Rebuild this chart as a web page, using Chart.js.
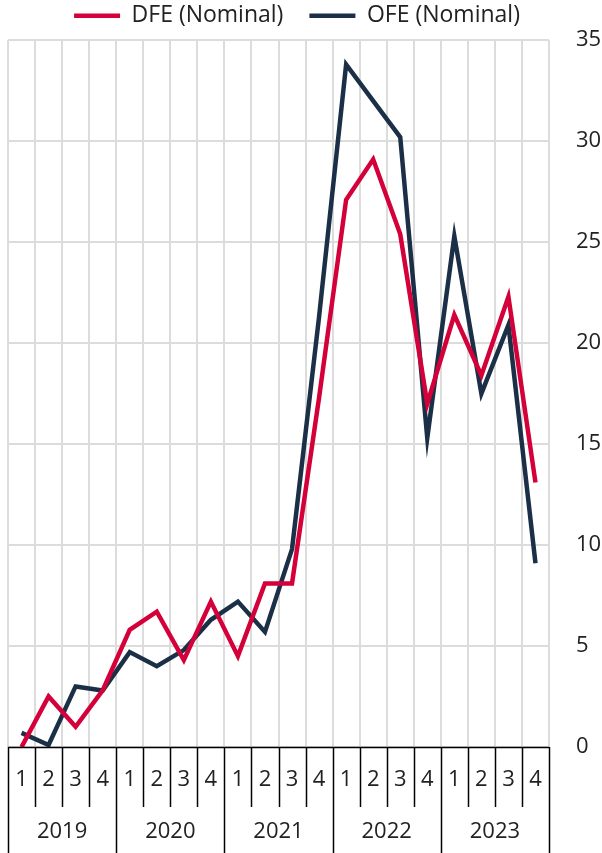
<!DOCTYPE html>
<html>
<head>
<meta charset="utf-8">
<script src="https://cdn.jsdelivr.net/npm/chart.js@4.4.1/dist/chart.umd.min.js"></script>
<style>
  html, body { margin: 0; padding: 0; background: #fff; }
  #wrap { width: 602px; height: 853px; position: relative; }
</style>
</head>
<body>
<div id="wrap"><canvas id="chart"></canvas></div>
<script>
const years = ['2019', '2020', '2021', '2022', '2023']
const quarters = ['1', '2', '3', '4']
const dfe = [0, 2.5, 1.0, 2.8, 5.8, 6.7, 4.3, 7.2, 4.5, 8.1, 8.1, 17.3, 27.1, 29.1, 25.4, 17.0, 21.4, 18.4, 22.3, 13.1]
const ofe = [0.7, 0.1, 3.0, 2.8, 4.7, 4.0, 4.8, 6.3, 7.2, 5.7, 9.8, 21.3, 33.8, 32.0, 30.2, 15.3, 25.3, 17.5, 20.9, 9.1]
const yTicks = [0, 5, 10, 15, 20, 25, 30, 35]

const labels = []
years.forEach(y => quarters.forEach(q => labels.push(y + ' Q' + q)))

const FONT = 'Open Sans'
const TEXT = '#222'

// draws the two-row category axis (quarter / year) under the plot
const groupAxis = {
  id: 'groupAxis',
  afterLayout(chart) {
    // pull the legend row up so the plot can start right under it
    chart.legend.top -= 24
    chart.legend.left -= 16
  },
  afterDraw(chart) {
    const ctx = chart.ctx
    const xs = chart.scales.x
    const top = xs.top
    const step = xs.width / labels.length
    ctx.save()
    ctx.strokeStyle = '#000'
    ctx.lineWidth = 1.5
    for (let i = 0; i <= labels.length; i++) {
      const bx = Math.round(xs.left + i * step) + 0.5
      const yearEdge = i % quarters.length === 0
      ctx.beginPath()
      ctx.moveTo(bx, top)
      ctx.lineTo(bx, yearEdge ? 853 : top + 60)
      ctx.stroke()
    }
    ctx.beginPath()
    ctx.moveTo(xs.left, top + 0.5)
    ctx.lineTo(xs.right, top + 0.5)
    ctx.stroke()
    ctx.fillStyle = TEXT
    ctx.font = '22px "' + FONT + '"'
    ctx.textAlign = 'center'
    ctx.textBaseline = 'middle'
    labels.forEach((l, i) => {
      ctx.fillText(quarters[i % quarters.length], xs.getPixelForValue(i), top + 33)
    })
    years.forEach((y, j) => {
      const a = xs.getPixelForValue(j * 4)
      const b = xs.getPixelForValue(j * 4 + 3)
      ctx.fillText(y, (a + b) / 2, top + 85)
    })
    ctx.restore()
  }
}

new Chart(document.getElementById('chart'), {
  type: 'line',
  data: {
    labels,
    datasets: [
      { label: 'DFE (Nominal)', data: dfe, borderColor: '#d4003a', backgroundColor: '#d4003a', borderWidth: 4.5, pointRadius: 0, tension: 0 },
      { label: 'OFE (Nominal)', data: ofe, borderColor: '#1b3047', backgroundColor: '#1b3047', borderWidth: 4.5, pointRadius: 0, tension: 0 }
    ]
  },
  options: {
    responsive: true,
    maintainAspectRatio: false,
    animation: false,
    layout: { padding: { left: 8, right: 0, top: 0, bottom: 106 } },
    plugins: {
      legend: {
        position: 'top',
        align: 'center',
        maxHeight: 38,
        labels: {
          boxWidth: 46, boxHeight: 0, padding: 26,
          color: TEXT, font: { family: FONT, size: 23 }
        }
      },
      tooltip: { enabled: false }
    },
    scales: {
      x: {
        offset: true,
        grid: { offset: true, color: '#dcdcdc', lineWidth: 2, drawTicks: false },
        border: { display: false },
        ticks: { display: false }
      },
      y: {
        position: 'right',
        min: 0, max: 35,
        afterBuildTicks: s => { s.ticks = yTicks.map(v => ({ value: v })) },
        afterFit: s => { s.width = 53 },
        grid: { color: '#dcdcdc', lineWidth: 2, drawTicks: false },
        border: { display: false },
        ticks: { padding: 27, color: TEXT, font: { family: FONT, size: 22 } }
      }
    }
  },
  plugins: [groupAxis]
})
</script>
</body>
</html>
